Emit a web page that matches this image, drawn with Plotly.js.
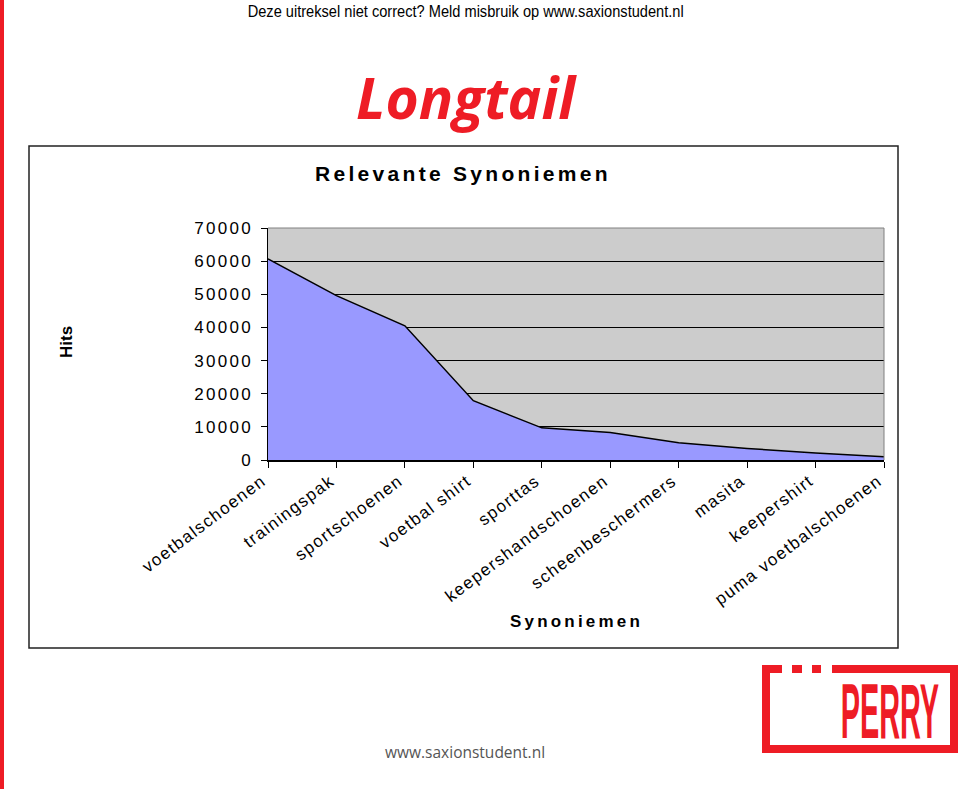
<!DOCTYPE html>
<html><head><meta charset="utf-8">
<script src="https://cdn.plot.ly/plotly-3.0.1.min.js"></script>
<style>html,body{margin:0;padding:0;background:#fff;}#chart{width:960px;height:789px;}
.xtick text{letter-spacing:1.4px;}
.ytick text{letter-spacing:2.3px;}
</style>
</head><body><div id="chart"></div>
<script>
const categories = ["voetbalschoenen","trainingspak","sportschoenen","voetbal shirt","sporttas","keepershandschoenen","scheenbeschermers","masita","keepershirt","puma voetbalschoenen"];
const hits = [60700, 49600, 40500, 17900, 9700, 8300, 5200, 3500, 2100, 1000];
const yTicks = [0,10000,20000,30000,40000,50000,60000,70000];

const L=268, R=884, T=228, B=460;
const px = x => (x-L)/(R-L);
const py = y => (B-y)/(B-T);
const red = '#ee1c25';

const trace = {
  x: categories, y: hits, type:'scatter', mode:'lines', fill:'tozeroy',
  fillcolor:'#9999ff', line:{color:'#000', width:1.5}, hoverinfo:'x+y'
};

const rect = (x0,x1,y0,y1,extra) => Object.assign({type:'rect', xref:'paper', yref:'paper', x0:px(x0), x1:px(x1), y0:py(y0), y1:py(y1), fillcolor:red, line:{width:0}}, extra||{});

const shapes = [
  rect(29,898,146,648,{fillcolor:'rgba(0,0,0,0)', line:{color:'#222', width:1.5}, layer:'below'}),
  rect(0,4,0,789),
  {type:'line', xref:'paper', yref:'paper', x0:0, x1:1, y0:1, y1:1, line:{color:'#808080', width:1}},
  {type:'line', xref:'paper', yref:'paper', x0:1, x1:1, y0:0, y1:1, line:{color:'#808080', width:1}},
  // PERRY logo frame
  rect(762,770,665,753), rect(950,958,665,753), rect(762,958,745,753),
  rect(762,782,665,673), rect(792,802,665,673), rect(812,821,665,673), rect(832,958,665,673)
];

const ann = (text, x, y, font, extra) => Object.assign({text, xref:'paper', yref:'paper', x:px(x), y:py(y), showarrow:false, xanchor:'center', yanchor:'middle', font}, extra||{});
const sp = (t, s) => '<span style="letter-spacing:' + s + 'px">' + t + '</span>';

const annotations = [
  ann('Deze uitreksel niet correct? Meld misbruik op www.saxionstudent.nl', 465, 12, {family:'Liberation Sans, Arial', size:17, color:'#000'}),
  ann('<b><i>Longtail</i></b>', 466, 97, {family:'Open Sans, Arial', size:57, color:red}),
  ann('<b>' + sp('Relevante Synoniemen', 3.3) + '</b>', 463, 173, {family:'Liberation Sans, Arial', size:21, color:'#000'}),
  ann('<b>Hits</b>', 66, 342, {family:'Liberation Sans, Arial', size:17, color:'#000'}, {textangle:-90}),
  ann('<b>' + sp('Synoniemen', 3.2) + '</b>', 576, 621, {family:'Liberation Sans, Arial', size:17, color:'#000'}),
  ann('www.saxionstudent.nl', 465, 752, {family:'Open Sans, Arial', size:15.5, color:'#555'}),
  ann('<b>PERRY</b>', 890, 711, {family:'Liberation Sans, Arial', size:78, color:red})
];

const layout = {
  width:960, height:789,
  margin:{l:L, r:960-R, t:T, b:789-B, pad:0},
  paper_bgcolor:'#fff', plot_bgcolor:'#cccccc',
  showlegend:false,
  font:{family:'Liberation Sans, Arial', size:16, color:'#000'},
  xaxis:{type:'category', range:[0, categories.length-1], tickangle:-37, ticks:'outside', ticklen:6, tickcolor:'#000', tickwidth:1,
         showline:true, linecolor:'#000', linewidth:1.5, showgrid:false, zeroline:false, tickfont:{size:17, color:'#000'},
         ticklabelshift:-6, ticklabelstandoff:-3},
  yaxis:{range:[0,70000], tickvals:yTicks, ticktext:yTicks.map(String), ticks:'outside', ticklen:6, tickcolor:'#000',
         showline:true, linecolor:'#000', linewidth:1.5, showgrid:true, gridcolor:'#000', gridwidth:1, zeroline:false,
         tickfont:{size:17, color:'#000'}, ticklabelstandoff:4},
  shapes, annotations
};

function squeeze(matchText, sx) {
  document.querySelectorAll('text.annotation-text').forEach(t => {
    if (t.textContent === matchText) {
      const b = t.getBBox();
      const cx = b.x + b.width/2, cy = b.y + b.height/2;
      const prev = t.getAttribute('transform') || '';
      t.setAttribute('transform', prev + ` translate(${cx},${cy}) scale(${sx},1) translate(${-cx},${-cy})`);
    }
  });
}

Plotly.newPlot('chart', [trace], layout, {staticPlot:true}).then(() => {
  squeeze('Deze uitreksel niet correct? Meld misbruik op www.saxionstudent.nl', 0.86);
  squeeze('PERRY', 0.37);
});
</script></body></html>
